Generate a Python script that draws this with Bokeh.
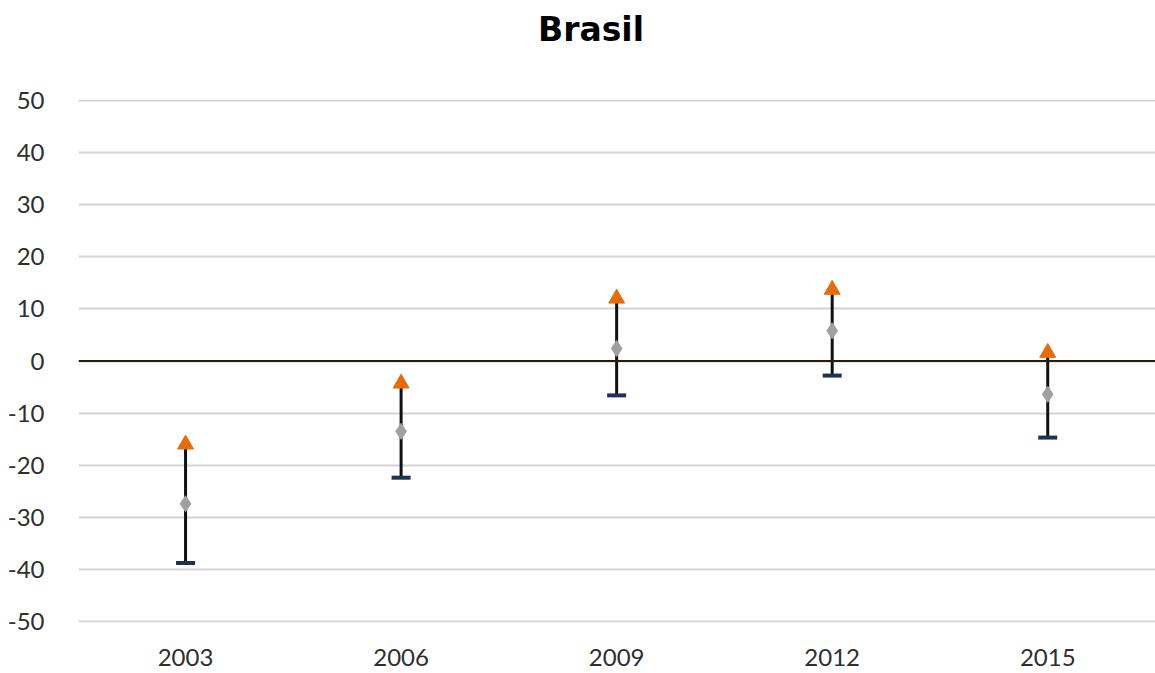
from bokeh.plotting import figure
from bokeh.models import Range1d, FixedTicker, Span, Div
from bokeh.layouts import column
from bokeh.embed import file_html
from bokeh.resources import INLINE

title_text = "Brasil"
years = [2003, 2006, 2009, 2012, 2015]
high = [-16.0, -4.3, 12.0, 13.7, 1.6]
mean = [-27.4, -13.5, 2.4, 5.8, -6.4]
low = [-38.8, -22.4, -6.6, -2.8, -14.7]
y_ticks = [-50, -40, -30, -20, -10, 0, 10, 20, 30, 40, 50]

FONT = "Lato"
W, H = 1155, 673
TITLE_H = 60
LEFT, TOP, BOTTOM = 78, 99, 51

title = Div(
    text=('<div style="display:block;box-sizing:border-box;width:%dpx;padding-left:27px;'
          'font-family:\'DejaVu Sans\';font-size:33px;font-weight:bold;'
          'color:#000;text-align:center;line-height:%dpx;">%s</div>'
          % (W, TITLE_H, title_text)),
    width=W, height=TITLE_H, margin=(0, 0, 0, 0))

p = figure(width=W, height=H - TITLE_H, output_backend="svg", toolbar_location=None,
           x_range=Range1d(2001.51, 2016.50), y_range=Range1d(-50.2, 50.2),
           min_border_left=LEFT, min_border_right=0, min_border_top=TOP - TITLE_H,
           min_border_bottom=BOTTOM, margin=(0, 0, 0, 0))
p.outline_line_color = None
p.background_fill_color = "white"
p.border_fill_color = "white"

p.xaxis.ticker = FixedTicker(ticks=years)
p.xaxis.major_label_overrides = {y: str(y) for y in years}
p.yaxis.ticker = FixedTicker(ticks=y_ticks)
p.yaxis.major_label_overrides = {t: str(t) for t in y_ticks}
for ax in (p.xaxis, p.yaxis):
    ax.axis_line_color = None
    ax.major_tick_line_color = None
    ax.minor_tick_line_color = None
    ax.major_label_text_font = FONT
    ax.major_label_text_font_size = "24px"
    ax.major_label_text_color = "#2e2e2e"
p.xaxis.major_label_standoff = 20
p.yaxis.major_label_standoff = 28

p.xgrid.grid_line_color = None
p.ygrid.ticker = FixedTicker(ticks=y_ticks)
p.ygrid.grid_line_color = "#d4d4d4"
p.ygrid.grid_line_width = 2

zero = Span(location=0, dimension="width", line_color="#2a1a12", line_width=2)
p.add_layout(zero)

p.segment(x0=years, y0=low, x1=years, y1=high, line_color="#111111", line_width=3)
p.scatter(years, low, marker="dash", size=19, line_color="#1f2f5a", line_width=4)
p.scatter(years, mean, marker="diamond", size=16, fill_color="#a0a0a0", line_color="#a0a0a0")
p.scatter(years, high, marker="triangle", size=16, fill_color="#E46C0A", line_color="#E46C0A")

layout = column(title, p, spacing=0)
open("out.html", "w").write(file_html(layout, INLINE))
